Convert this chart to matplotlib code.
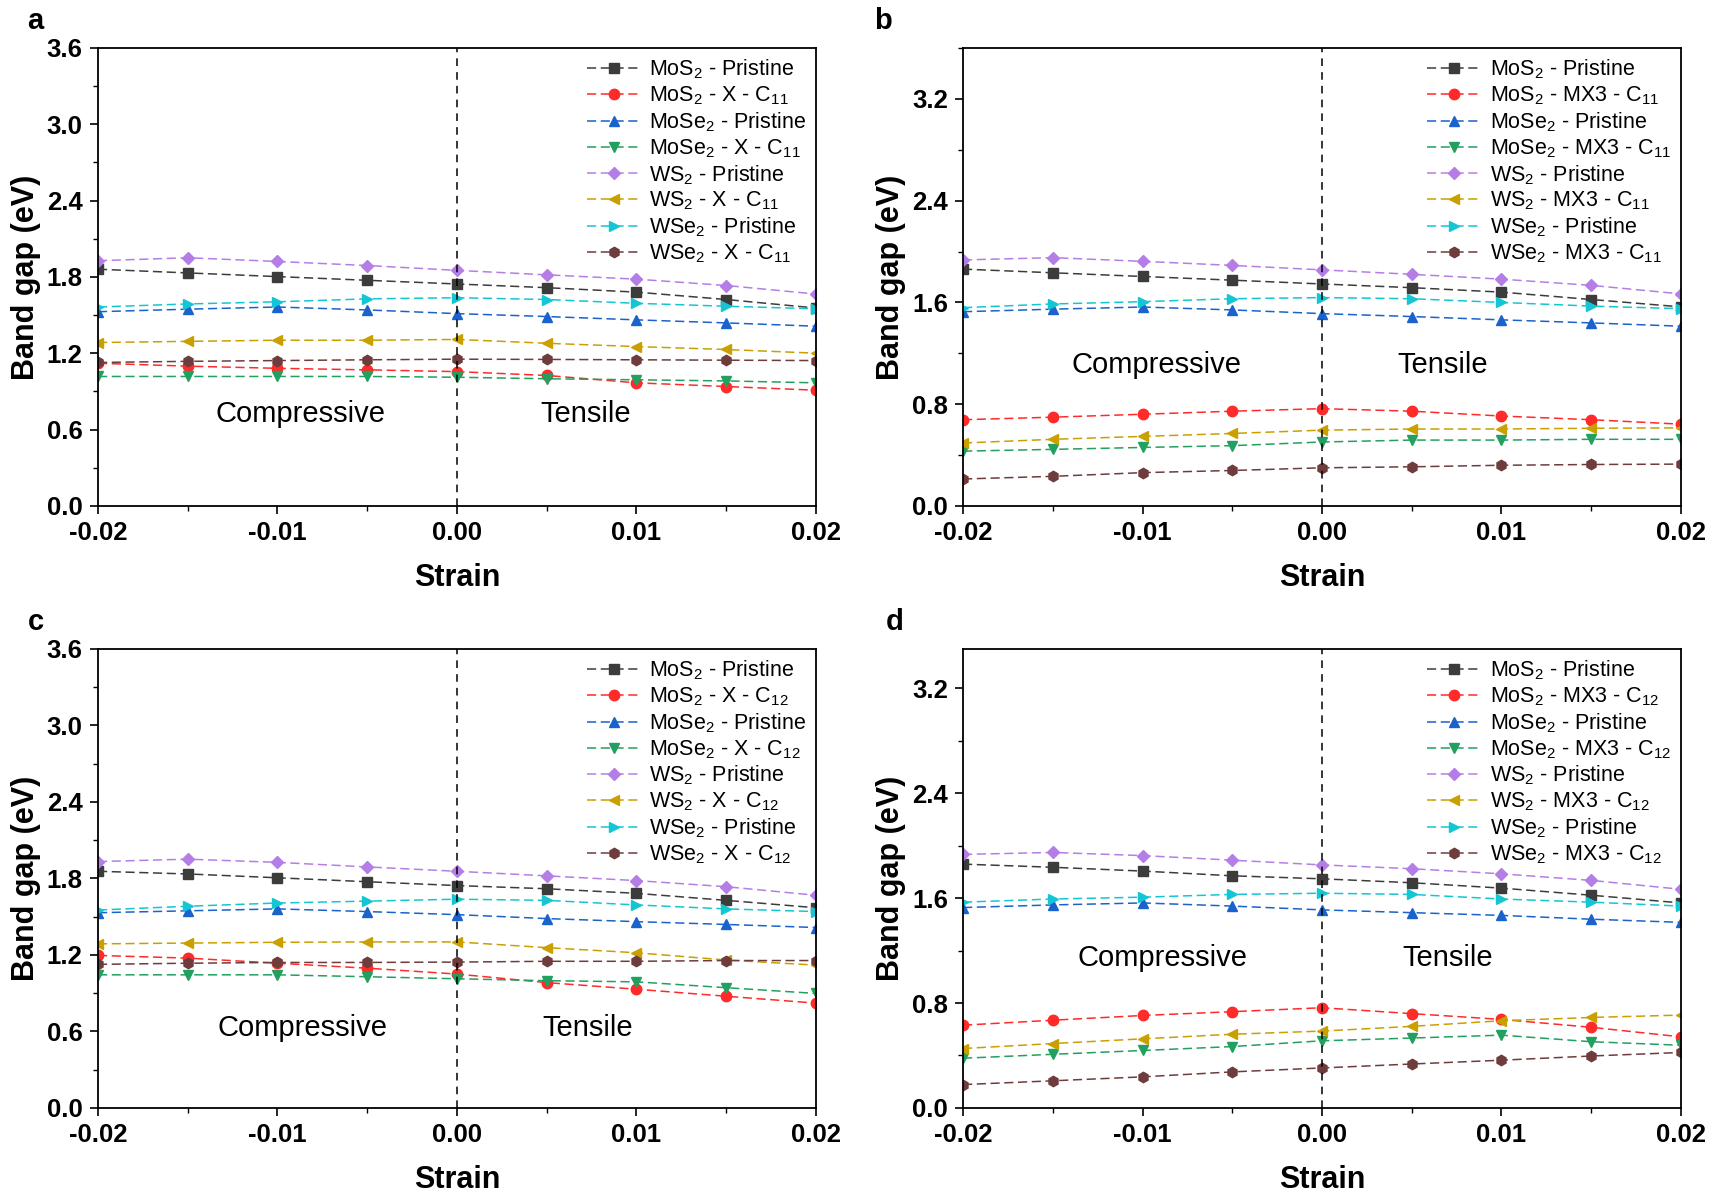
import matplotlib
matplotlib.use("Agg")
import matplotlib.pyplot as plt
from matplotlib.ticker import MultipleLocator

plt.rcParams["font.family"] = ["Liberation Sans", "DejaVu Sans"]
plt.rcParams["mathtext.fontset"] = "custom"
plt.rcParams["mathtext.rm"] = "Liberation Sans"
plt.rcParams["mathtext.it"] = "Liberation Sans:italic"
plt.rcParams["mathtext.bf"] = "Liberation Sans:bold"
plt.rcParams["mathtext.default"] = "regular"

strain = [-0.02, -0.015, -0.01, -0.005, 0.0, 0.005, 0.01, 0.015, 0.02]

compounds = ["MoS$_2$", "MoS$_2$", "MoSe$_2$", "MoSe$_2$", "WS$_2$", "WS$_2$", "WSe$_2$", "WSe$_2$"]
colors = ["#3c3c3c", "#ff2a2a", "#1a62cc", "#22a060", "#b57ee6", "#c9a000", "#14c6d4", "#6e3c3c"]
markers = ["s", "o", "^", "v", "D", "<", ">", "h"]

# panel a : X - C11
a_mos2_p = [1.861, 1.832, 1.803, 1.774, 1.745, 1.716, 1.681, 1.623, 1.556]
a_mos2_x = [1.122, 1.099, 1.082, 1.070, 1.056, 1.026, 0.968, 0.939, 0.910]
a_mose2_p = [1.527, 1.547, 1.564, 1.541, 1.512, 1.489, 1.463, 1.439, 1.413]
a_mose2_x = [1.018, 1.018, 1.018, 1.018, 1.012, 1.000, 0.992, 0.983, 0.968]
a_ws2_p = [1.928, 1.951, 1.922, 1.890, 1.852, 1.817, 1.783, 1.733, 1.666]
a_ws2_x = [1.285, 1.294, 1.303, 1.303, 1.309, 1.279, 1.253, 1.230, 1.201]
a_wse2_p = [1.564, 1.588, 1.605, 1.628, 1.637, 1.623, 1.593, 1.570, 1.550]
a_wse2_x = [1.128, 1.137, 1.143, 1.149, 1.154, 1.152, 1.149, 1.146, 1.143]

# panel b : MX3 - C11
b_mos2_p = [1.862, 1.833, 1.804, 1.775, 1.745, 1.716, 1.681, 1.623, 1.565]
b_mos2_x = [0.678, 0.698, 0.721, 0.745, 0.765, 0.745, 0.707, 0.678, 0.643]
b_mose2_p = [1.527, 1.547, 1.564, 1.541, 1.512, 1.489, 1.463, 1.439, 1.413]
b_mose2_x = [0.431, 0.445, 0.460, 0.474, 0.503, 0.518, 0.518, 0.524, 0.524]
b_ws2_p = [1.934, 1.952, 1.923, 1.891, 1.856, 1.821, 1.783, 1.734, 1.667]
b_ws2_x = [0.495, 0.524, 0.547, 0.570, 0.596, 0.605, 0.605, 0.611, 0.614]
b_wse2_p = [1.559, 1.588, 1.606, 1.629, 1.638, 1.629, 1.600, 1.571, 1.551]
b_wse2_x = [0.212, 0.233, 0.262, 0.279, 0.300, 0.308, 0.320, 0.326, 0.329]

# panel c : X - C12
c_mos2_p = [1.856, 1.835, 1.805, 1.774, 1.744, 1.719, 1.683, 1.628, 1.570]
c_mos2_x = [1.196, 1.175, 1.135, 1.096, 1.050, 0.983, 0.931, 0.876, 0.822]
c_mose2_p = [1.531, 1.546, 1.561, 1.540, 1.516, 1.485, 1.461, 1.439, 1.415]
c_mose2_x = [1.044, 1.044, 1.044, 1.029, 1.013, 0.998, 0.989, 0.943, 0.898]
c_ws2_p = [1.932, 1.951, 1.926, 1.890, 1.856, 1.820, 1.783, 1.735, 1.668]
c_ws2_x = [1.287, 1.293, 1.299, 1.302, 1.302, 1.257, 1.217, 1.160, 1.120]
c_wse2_p = [1.552, 1.582, 1.607, 1.622, 1.637, 1.628, 1.592, 1.561, 1.540]
c_wse2_x = [1.126, 1.135, 1.141, 1.141, 1.144, 1.150, 1.150, 1.156, 1.156]

# panel d : MX3 - C12
d_mos2_p = [1.859, 1.835, 1.806, 1.770, 1.747, 1.717, 1.676, 1.622, 1.563]
d_mos2_x = [0.631, 0.669, 0.705, 0.734, 0.764, 0.719, 0.675, 0.615, 0.542]
d_mose2_p = [1.528, 1.548, 1.563, 1.539, 1.510, 1.489, 1.468, 1.439, 1.415]
d_mose2_x = [0.379, 0.409, 0.438, 0.468, 0.512, 0.533, 0.555, 0.505, 0.478]
d_ws2_p = [1.933, 1.948, 1.924, 1.889, 1.853, 1.824, 1.785, 1.735, 1.667]
d_ws2_x = [0.453, 0.491, 0.527, 0.562, 0.586, 0.622, 0.665, 0.690, 0.708]
d_wse2_p = [1.569, 1.593, 1.607, 1.628, 1.637, 1.628, 1.593, 1.569, 1.539]
d_wse2_x = [0.178, 0.207, 0.237, 0.275, 0.305, 0.335, 0.364, 0.396, 0.423]

panels = [
    ("a", "X - C$_{11}$", [a_mos2_p, a_mos2_x, a_mose2_p, a_mose2_x, a_ws2_p, a_ws2_x, a_wse2_p, a_wse2_x],
     3.6, 0.6, (-0.0087, 0.72), (0.0072, 0.72)),
    ("b", "MX3 - C$_{11}$", [b_mos2_p, b_mos2_x, b_mose2_p, b_mose2_x, b_ws2_p, b_ws2_x, b_wse2_p, b_wse2_x],
     3.6, 0.8, (-0.0092, 1.11), (0.0067, 1.11)),
    ("c", "X - C$_{12}$", [c_mos2_p, c_mos2_x, c_mose2_p, c_mose2_x, c_ws2_p, c_ws2_x, c_wse2_p, c_wse2_x],
     3.6, 0.6, (-0.0086, 0.63), (0.0073, 0.63)),
    ("d", "MX3 - C$_{12}$", [d_mos2_p, d_mos2_x, d_mose2_p, d_mose2_x, d_ws2_p, d_ws2_x, d_wse2_p, d_wse2_x],
     3.5, 0.8, (-0.0089, 1.14), (0.0070, 1.14)),
]

positions = [
    [0.0572, 0.5773, 0.4191, 0.3826],
    [0.5622, 0.5773, 0.4191, 0.3826],
    [0.0572, 0.0744, 0.4191, 0.3835],
    [0.5622, 0.0744, 0.4191, 0.3835],
]
letter_xy = [(0.016, 0.976), (0.510, 0.976), (0.016, 0.474), (0.517, 0.474)]

fig = plt.figure(figsize=(17.13, 11.97), dpi=100)

for (letter, variant, series, ytop, ystep, comp_xy, tens_xy), pos, lxy in zip(panels, positions, letter_xy):
    ax = fig.add_axes(pos)
    for i, vals in enumerate(series):
        kind = "Pristine" if i % 2 == 0 else variant
        ax.plot(strain, vals, color=colors[i], marker=markers[i], markersize=7.5 if markers[i] != "D" else 6.5,
                linestyle=(0, (6, 3)), linewidth=1.1, label=f"{compounds[i]} - {kind}")
    ax.axvline(0.0, color="black", linestyle=(0, (5, 4)), linewidth=1.1)

    ax.set_xlim(-0.02, 0.02)
    ax.set_ylim(0.0, ytop)
    ax.xaxis.set_major_locator(MultipleLocator(0.01))
    ax.xaxis.set_minor_locator(MultipleLocator(0.005))
    ax.yaxis.set_major_locator(MultipleLocator(ystep))
    ax.yaxis.set_minor_locator(MultipleLocator(ystep / 2))
    ax.xaxis.set_major_formatter(plt.FormatStrFormatter("%.2f"))
    ax.yaxis.set_major_formatter(plt.FormatStrFormatter("%.1f"))
    ax.tick_params(which="major", direction="out", length=6, width=1.2, labelsize=18.5, pad=5)
    ax.tick_params(which="minor", direction="out", length=3.5, width=1.0)
    for lab in ax.get_xticklabels() + ax.get_yticklabels():
        lab.set_fontweight("bold")
    for sp in ax.spines.values():
        sp.set_linewidth(1.3)

    ax.set_xlabel("Strain", fontsize=22, fontweight="bold", labelpad=13)
    ax.set_ylabel("Band gap (eV)", fontsize=22, fontweight="bold", labelpad=4)

    ax.text(*comp_xy, "Compressive", fontsize=21, ha="center", va="center")
    ax.text(*tens_xy, "Tensile", fontsize=21, ha="center", va="center")

    ax.legend(loc="upper right", bbox_to_anchor=(1.0, 1.0), frameon=False, fontsize=15.5,
              handlelength=2.5, handletextpad=0.4, labelspacing=0.15, borderaxespad=0.05)

    fig.text(lxy[0], lxy[1], letter, fontsize=21, fontweight="bold", ha="left", va="baseline")

fig.savefig("out.png", dpi=100)
